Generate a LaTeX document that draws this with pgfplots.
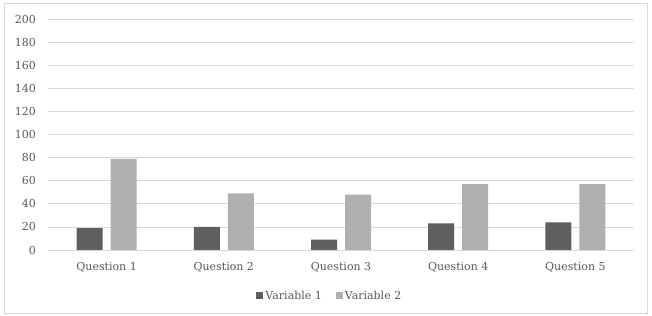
\documentclass[border=0pt]{standalone}
\usepackage{pgfplots}
\pgfplotsset{compat=1.18}
\usepackage{fontspec}
\setmainfont{DejaVu Serif}
\definecolor{vone}{HTML}{5F5F5F}
\definecolor{vtwo}{HTML}{B0B0B0}
\definecolor{txt}{HTML}{595959}
\definecolor{gridc}{HTML}{D9D9D9}
\begin{document}
\begin{tikzpicture}[x=1bp,y=1bp]
\fill[white] (0,0) rectangle (652,315);
\draw[draw=gridc, line width=0.75bp] (4,2) rectangle (647,312);
\begin{axis}[
  at={(48bp,65bp)}, anchor=south west,
  scale only axis, width=586bp, height=231bp,
  xmin=-0.5, xmax=4.5, ymin=0, ymax=200,
  ybar=8bp, bar width=26bp,
  axis line style={draw=none},
  ytick={0,20,...,200},
  xtick={0,1,2,3,4},
  xticklabels={Question 1,Question 2,Question 3,Question 4,Question 5},
  major tick length=0pt,
  ymajorgrids=true, xmajorgrids=false,
  grid style={draw=gridc, line width=0.75bp},
  tick label style={font=\fontsize{11bp}{13bp}\selectfont, text=txt},
  /pgf/number format/assume math mode=true,
  yticklabel style={anchor=east, inner sep=0pt, xshift=-12bp},
  xticklabel style={anchor=north, inner sep=0pt, yshift=-12bp},
  legend style={at={(0.481,-0.199)}, anchor=center, draw=none, fill=none,
    legend columns=2, font=\fontsize{11bp}{13bp}\selectfont, text=txt,
    /tikz/every even column/.append style={column sep=12bp}},
  legend image code/.code={\fill[#1] (0bp,-3.5bp) rectangle (7bp,3.5bp);},
]
\addplot[fill=vone, draw=none] coordinates {(0,19) (1,20) (2,9) (3,23) (4,24)};
\addplot[fill=vtwo, draw=none] coordinates {(0,79) (1,49) (2,48) (3,57) (4,57)};
\draw[draw=gridc, line width=0.75bp] (axis cs:-0.5,0) -- (axis cs:4.5,0);
\legend{Variable 1, Variable 2}
\end{axis}
\end{tikzpicture}
\end{document}
